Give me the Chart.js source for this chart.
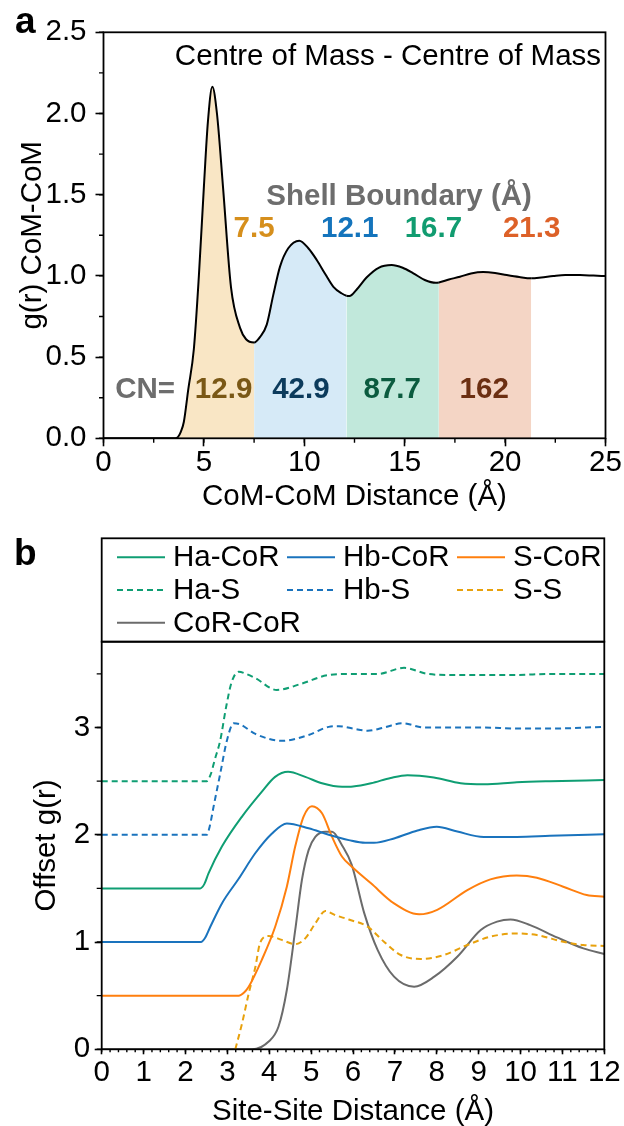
<!DOCTYPE html>
<html>
<head>
<meta charset="utf-8">
<script src="https://cdn.jsdelivr.net/npm/chart.js@4.4.1/dist/chart.umd.min.js"></script>
<style>
  html, body { margin: 0; padding: 0; background: #fff; }
  #wrap { position: relative; width: 624px; height: 1126px; overflow: hidden; }
  canvas { position: absolute; left: 0; }
  #chart-a { top: 0; }
  #chart-b { top: 520px; }
</style>
</head>
<body>
<div id="wrap">
  <canvas id="chart-a" width="624" height="520"></canvas>
  <canvas id="chart-b" width="624" height="606"></canvas>
</div>
<script>
const FONT = "'Liberation Sans', Arial, Helvetica, sans-serif";
const FS = 29.5;

// panel a : centre of mass rdf
const COM_R = [0, 3.5, 3.65, 3.85, 4.0, 4.22, 4.5, 4.75, 5.0, 5.2,
  5.42, 5.65, 5.95, 6.35, 6.8, 7.1, 7.5, 7.8, 8.13, 8.45,
  8.79, 9.2, 9.75, 10.2, 10.62, 11.05, 11.45, 11.85, 12.1, 12.25,
  12.6, 13.1, 13.7, 14.35, 14.9, 15.43, 16.0, 16.55, 16.7, 17.2,
  17.75, 18.3, 18.91, 19.5, 20.08, 20.7, 21.3, 21.8, 22.4, 23.0,
  23.73, 24.4, 25];
const COM_G = [0, 0, 0.003, 0.04, 0.10, 0.30, 0.55, 1.0, 1.55, 1.95,
  2.165, 2.0, 1.55, 0.93, 0.68, 0.61, 0.59, 0.625, 0.70, 0.88,
  1.057, 1.17, 1.217, 1.17, 1.098, 1.01, 0.933, 0.893, 0.878, 0.876,
  0.915, 0.99, 1.05, 1.067, 1.05, 1.016, 0.975, 0.958, 0.96, 0.978,
  0.995, 1.015, 1.024, 1.018, 1.005, 0.993, 0.985, 0.99, 0.999, 1.005,
  1.005, 1.002, 0.999];
const SHELL_BOUNDS = [7.5, 12.1, 16.7, 21.3];
const SHELL_FILLS = ["#f9e6c5", "#d6eaf7", "#c1e8db", "#f4d5c5"];
const SHELL_TEXT = ["#d68f1c", "#1474bc", "#119c70", "#dd6128"];
const CN_VALUES = [12.9, 42.9, 87.7, 162];
const CN_TEXT = ["#7a5816", "#0c3b5c", "#0b5b3f", "#6c2f12"];

// panel b : site-site rdfs, already offset
const HA_COR = [[0, 1.5], [2.35, 1.5], [2.45, 1.54], [2.55, 1.64], [2.87, 1.89], [3.35, 2.17], [3.82, 2.40],
  [4.14, 2.54], [4.45, 2.587], [4.86, 2.54], [5.26, 2.48], [5.74, 2.447], [6.0, 2.45], [6.43, 2.48],
  [6.9, 2.53], [7.3, 2.556], [7.93, 2.534], [8.57, 2.48], [9.13, 2.47], [9.91, 2.49], [10.7, 2.50], [12, 2.51]];
const HB_COR = [[0, 1], [2.37, 1], [2.47, 1.04], [2.59, 1.14], [2.87, 1.36], [3.27, 1.59], [3.67, 1.83],
  [4.06, 2.01], [4.42, 2.106], [4.94, 2.06], [5.42, 2.0], [5.9, 1.95], [6.29, 1.925], [6.5, 1.925],
  [6.98, 1.966], [7.54, 2.04], [8.0, 2.075], [8.49, 2.03], [9.12, 1.98], [9.91, 1.98], [10.7, 1.99], [12, 2.006]];
const S_COR = [[0, 0.5], [3.27, 0.5], [3.4, 0.53], [3.51, 0.584], [3.82, 0.832], [4.14, 1.14], [4.42, 1.516],
  [4.62, 1.89], [4.82, 2.17], [5.02, 2.267], [5.26, 2.2], [5.5, 1.98], [5.74, 1.795], [5.98, 1.70],
  [6.43, 1.547], [6.98, 1.36], [7.58, 1.258], [8.01, 1.30], [8.73, 1.484], [9.28, 1.584], [9.91, 1.62],
  [10.39, 1.60], [11.02, 1.516], [11.58, 1.438], [12, 1.422]];
const HA_S = [[0, 2.5], [2.51, 2.5], [2.6, 2.56], [2.7, 2.7], [2.83, 2.88], [2.97, 3.19], [3.1, 3.42],
  [3.27, 3.52], [3.45, 3.5], [3.67, 3.46], [4.18, 3.35], [4.78, 3.41], [5.42, 3.49], [6.0, 3.50],
  [6.59, 3.50], [7.22, 3.556], [7.78, 3.50], [8.33, 3.49], [9.12, 3.49], [9.91, 3.49], [10.7, 3.50], [12, 3.50]];
const HB_S = [[0, 2], [2.51, 2], [2.58, 2.08], [2.67, 2.26], [2.83, 2.57], [2.99, 2.88], [3.15, 3.04],
  [3.3, 3.03], [3.67, 2.94], [4.30, 2.876], [4.94, 2.93], [5.42, 3.006], [5.66, 3.012], [6.0, 2.99],
  [6.35, 2.97], [6.74, 3.0], [7.18, 3.04], [7.7, 3.0], [8.33, 3.0], [9.12, 3.0], [9.91, 2.99], [10.7, 2.99], [12, 3.006]];
const S_S = [[3.19, 0], [3.35, 0.24], [3.51, 0.52], [3.67, 0.77], [3.78, 0.99], [3.98, 1.056], [4.30, 1.02],
  [4.62, 0.98], [4.86, 1.034], [5.1, 1.174], [5.34, 1.29], [5.58, 1.25], [5.9, 1.21], [6.35, 1.143],
  [6.74, 1.003], [7.14, 0.879], [7.62, 0.842], [8.17, 0.879], [8.73, 0.972], [9.28, 1.05], [9.91, 1.08],
  [10.39, 1.065], [11.02, 1.003], [11.5, 0.972], [12, 0.963]];
const COR_COR = [[0, 0], [3.59, 0], [3.98, 0.07], [4.22, 0.21], [4.42, 0.553], [4.62, 1.11], [4.78, 1.578],
  [4.94, 1.857], [5.1, 1.98], [5.34, 2.028], [5.5, 2.028], [5.74, 1.90], [5.97, 1.72], [6.27, 1.267],
  [6.59, 0.925], [6.98, 0.677], [7.46, 0.584], [7.94, 0.677], [8.49, 0.863], [9.05, 1.112], [9.44, 1.19],
  [9.76, 1.211], [10.23, 1.158], [10.87, 1.043], [11.5, 0.941], [12, 0.888]];

const GREEN = "#0f9e73";
const BLUE = "#1a73bd";
const ORANGE = "#ff7f0e";
const GOLD = "#e8a10c";
const GREY = "#6b6b6b";
const DASH = [6, 4];

const SERIES_B = [
  { label: "Ha-CoR", data: HA_COR, color: GREEN, dash: [] },
  { label: "Hb-CoR", data: HB_COR, color: BLUE, dash: [] },
  { label: "S-CoR", data: S_COR, color: ORANGE, dash: [] },
  { label: "Ha-S", data: HA_S, color: GREEN, dash: DASH },
  { label: "Hb-S", data: HB_S, color: BLUE, dash: DASH },
  { label: "S-S", data: S_S, color: GOLD, dash: DASH },
  { label: "CoR-CoR", data: COR_COR, color: GREY, dash: [] },
];

function shellFill(x) {
  let lo = 0;
  for (let i = 0; i < SHELL_BOUNDS.length; i++) {
    if (x >= lo && x < SHELL_BOUNDS[i]) return SHELL_FILLS[i];
    lo = SHELL_BOUNDS[i];
  }
  return "rgba(0,0,0,0)";
}

// ---- shared plugins ----
const frame = {
  id: "frame",
  afterDraw(chart) {
    const { ctx, chartArea: a } = chart;
    ctx.save();
    ctx.strokeStyle = "#000";
    ctx.lineWidth = 1.8;
    ctx.strokeRect(a.left, a.top, a.right - a.left, a.bottom - a.top);
    ctx.restore();
  },
};

const minorTicks = {
  id: "minorTicks",
  afterDraw(chart, args, o) {
    const { ctx, chartArea: a } = chart;
    const sx = chart.scales.x, sy = chart.scales.y;
    ctx.save();
    ctx.strokeStyle = "#000";
    ctx.lineWidth = 1.4;
    ctx.beginPath();
    const nx = Math.round((sx.max - sx.min) / o.xStep);
    for (let i = 0; i <= nx; i++) {
      const px = sx.getPixelForValue(sx.min + i * o.xStep);
      ctx.moveTo(px, a.bottom);
      ctx.lineTo(px, a.bottom + o.xLen);
    }
    const ny = Math.floor((sy.max - sy.min) / o.yStep + 1e-6);
    for (let i = 0; i <= ny; i++) {
      const py = sy.getPixelForValue(sy.min + i * o.yStep);
      ctx.moveTo(a.left, py);
      ctx.lineTo(a.left - o.yLen, py);
    }
    ctx.stroke();
    ctx.restore();
  },
};

const notes = {
  id: "notes",
  afterDatasetsDraw(chart, args, o) {
    const { ctx } = chart;
    const sx = chart.scales.x, sy = chart.scales.y;
    ctx.save();
    (o.items || []).forEach((n) => {
      ctx.font = `${n.bold ? "bold " : ""}${n.size || FS}px ${FONT}`;
      ctx.fillStyle = n.color;
      ctx.textAlign = n.align || "center";
      ctx.textBaseline = "middle";
      ctx.fillText(n.text, sx.getPixelForValue(n.x), sy.getPixelForValue(n.y));
    });
    if (o.letter) {
      ctx.font = `bold 37px ${FONT}`;
      ctx.fillStyle = "#000";
      ctx.textAlign = "left";
      ctx.textBaseline = "alphabetic";
      ctx.fillText(o.letter.text, o.letter.x, o.letter.y);
    }
    ctx.restore();
  },
};

const boxLegend = {
  id: "boxLegend",
  afterDraw(chart, args, o) {
    const { ctx, chartArea: a } = chart;
    ctx.save();
    ctx.strokeStyle = "#000";
    ctx.lineWidth = 1.8;
    ctx.strokeRect(a.left, o.top, a.right - a.left, a.top - o.top);
    ctx.font = `${FS}px ${FONT}`;
    ctx.textBaseline = "middle";
    ctx.textAlign = "left";
    chart.data.datasets.forEach((ds, i) => {
      const col = i % 3, row = Math.floor(i / 3);
      const x = o.x0 + col * o.colW;
      const y = o.rows[row];
      ctx.strokeStyle = ds.borderColor;
      ctx.lineWidth = ds.borderWidth;
      ctx.setLineDash(ds.borderDash || []);
      ctx.beginPath();
      ctx.moveTo(x, y);
      ctx.lineTo(x + o.lineW, y);
      ctx.stroke();
      ctx.setLineDash([]);
      ctx.fillStyle = "#000";
      ctx.fillText(ds.label, x + o.lineW + 8, y + 1);
    });
    ctx.restore();
  },
};

function axis(extra) {
  return Object.assign({
    type: "linear",
    border: { display: false },
    grid: { display: true, drawOnChartArea: false, drawTicks: true, tickLength: 8, tickWidth: 1.6, tickColor: "#000" },
  }, extra);
}

// ---- panel a chart ----
new Chart(document.getElementById("chart-a"), {
  type: "scatter",
  data: {
    datasets: [{
      data: COM_R.map((r, i) => ({ x: r, y: COM_G[i] })),
      showLine: true,
      borderColor: "#000",
      borderWidth: 2,
      pointRadius: 0,
      cubicInterpolationMode: "monotone",
      fill: "origin",
      backgroundColor: "rgba(0,0,0,0)",
      segment: { backgroundColor: (c) => shellFill(c.p0.parsed.x) },
    }],
  },
  options: {
    responsive: false,
    animation: false,
    layout: { padding: { left: 0, right: 18.5, top: 32.3, bottom: 0 } },
    plugins: {
      legend: { display: false },
      tooltip: { enabled: false },
      minorTicks: { xStep: 2.5, xLen: 4.5, yStep: 0.25, yLen: 4.5 },
      notes: {
        items: [
          { text: "Centre of Mass - Centre of Mass", x: 24.78, y: 2.35, color: "#000", align: "right" },
          { text: "Shell Boundary (Å)", x: 14.72, y: 1.488, color: "#6d6d6d", bold: true },
          ...SHELL_BOUNDS.map((b, i) => ({ text: b.toFixed(1), x: [7.5, 12.26, 16.43, 21.32][i], y: 1.29, color: SHELL_TEXT[i], bold: true })),
          { text: "CN=", x: 2.07, y: 0.297, color: "#6d6d6d", bold: true },
          ...CN_VALUES.map((v, i) => ({ text: String(v), x: [5.98, 9.83, 14.38, 18.96][i], y: 0.297, color: CN_TEXT[i], bold: true })),
        ],
        letter: { text: "a", x: 15, y: 33 },
      },
    },
    scales: {
      x: axis({
        min: 0, max: 25,
        afterFit: (s) => { s.height = 81.7; },
        ticks: { stepSize: 5, padding: -1, autoSkip: false, maxRotation: 0, color: "#000", font: { family: FONT, size: FS } },
        title: { display: true, text: "CoM-CoM Distance (Å)", color: "#000", font: { family: FONT, size: FS }, padding: { top: 0, bottom: 5 } },
      }),
      y: axis({
        min: 0, max: 2.5,
        afterFit: (s) => { s.width = 103.5; },
        ticks: { stepSize: 0.5, padding: 9, color: "#000", font: { family: FONT, size: FS }, callback: (v) => v.toFixed(1) },
        title: { display: true, text: "g(r) CoM-CoM", color: "#000", font: { family: FONT, size: FS }, padding: { top: 15, bottom: 0 } },
      }),
    },
  },
  plugins: [minorTicks, notes, frame],
});

// ---- panel b chart ----
new Chart(document.getElementById("chart-b"), {
  type: "scatter",
  data: {
    datasets: SERIES_B.map((s) => ({
      label: s.label,
      data: s.data.map(([x, y]) => ({ x, y })),
      showLine: true,
      borderColor: s.color,
      borderWidth: 2,
      borderDash: s.dash,
      pointRadius: 0,
      fill: false,
      cubicInterpolationMode: "monotone",
    })),
  },
  options: {
    responsive: false,
    animation: false,
    layout: { padding: { left: 0, right: 19.7, top: 121.7, bottom: 0 } },
    plugins: {
      legend: { display: false },
      tooltip: { enabled: false },
      minorTicks: { xStep: 0.2, xLen: 3, yStep: 0.5, yLen: 5 },
      boxLegend: { top: 18.3, x0: 117, colW: 170, lineW: 48, rows: [37.3, 70, 102.7] },
      notes: { items: [], letter: { text: "b", x: 14, y: 45 } },
    },
    scales: {
      x: axis({
        min: 0, max: 12,
        afterFit: (s) => { s.height = 76.7; },
        grid: { display: true, drawOnChartArea: false, drawTicks: true, tickLength: 5, tickWidth: 1.6, tickColor: "#000" },
        ticks: { stepSize: 1, padding: 1, autoSkip: false, maxRotation: 0, color: "#000", font: { family: FONT, size: FS } },
        title: { display: true, text: "Site-Site Distance (Å)", color: "#000", font: { family: FONT, size: FS }, padding: { top: 0, bottom: -4 } },
      }),
      y: axis({
        min: 0, max: 3.8,
        afterFit: (s) => { s.width = 101.7; },
        grid: { display: true, drawOnChartArea: false, drawTicks: true, tickLength: 7, tickWidth: 1.6, tickColor: "#000" },
        ticks: { stepSize: 1, includeBounds: false, padding: 4.5, color: "#000", font: { family: FONT, size: FS }, callback: (v) => String(v) },
        title: { display: true, text: "Offset g(r)", color: "#000", font: { family: FONT, size: FS }, padding: { top: 29, bottom: 0 } },
      }),
    },
  },
  plugins: [minorTicks, notes, boxLegend, frame],
});
</script>
</body>
</html>
